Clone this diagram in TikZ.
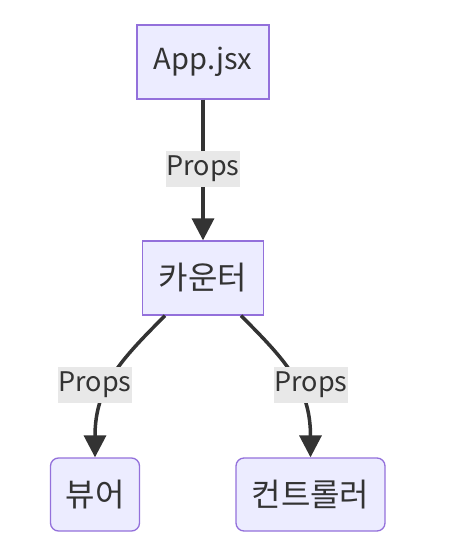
\documentclass[tikz,border=0pt]{standalone}
\usepackage{fontspec}
\setmainfont{Noto Sans CJK KR}
\usetikzlibrary{arrows.meta,positioning}
\definecolor{boxfill}{HTML}{ECECFF}
\definecolor{boxline}{HTML}{9370DB}
\definecolor{edgeline}{HTML}{333333}
\definecolor{lblfill}{HTML}{E8E8E8}

\begin{document}
\begin{tikzpicture}[
  x=1pt, y=-1pt,
  font=\fontsize{29}{34}\selectfont, text=edgeline,
  box/.style={draw=boxline, fill=boxfill, line width=1.3pt, minimum height=74pt, inner sep=0pt},
  rbox/.style={box, rounded corners=8pt, minimum height=73pt},
  kr/.style={font=\fontsize{32}{36}\selectfont},
  lbl/.style={fill=lblfill, inner xsep=0pt, inner ysep=0pt, minimum height=36pt, font=\fontsize{27}{32}\selectfont},
  arr/.style={-{Triangle[length=22pt, width=22pt]}, line width=3.5pt, draw=edgeline}
]
\useasboundingbox (0,0) rectangle (448,555);
\node[box, minimum width=132pt] (app) at (203,62) {App.jsx};
\node[box, kr, minimum width=121pt] (cnt) at (203,278) {카운터};
\node[rbox, kr, minimum width=89pt] (view) at (95,494.5) {뷰어};
\node[rbox, kr, minimum width=149pt] (ctrl) at (310.5,494.5) {컨트롤러};
\draw[arr] (app) -- (cnt);
\draw[arr] ([xshift=-38pt]cnt.south) .. controls +(-45,45) and +(0,-70) .. (view.north);
\draw[arr] ([xshift=38pt]cnt.south) .. controls +(45,45) and +(0,-70) .. (ctrl.north);
\node[lbl] (l1) at (203,169) {Props};
\node[lbl] (l2) at (95,385) {Props};
\node[lbl] (l3) at (311,385) {Props};
\end{tikzpicture}
\end{document}
